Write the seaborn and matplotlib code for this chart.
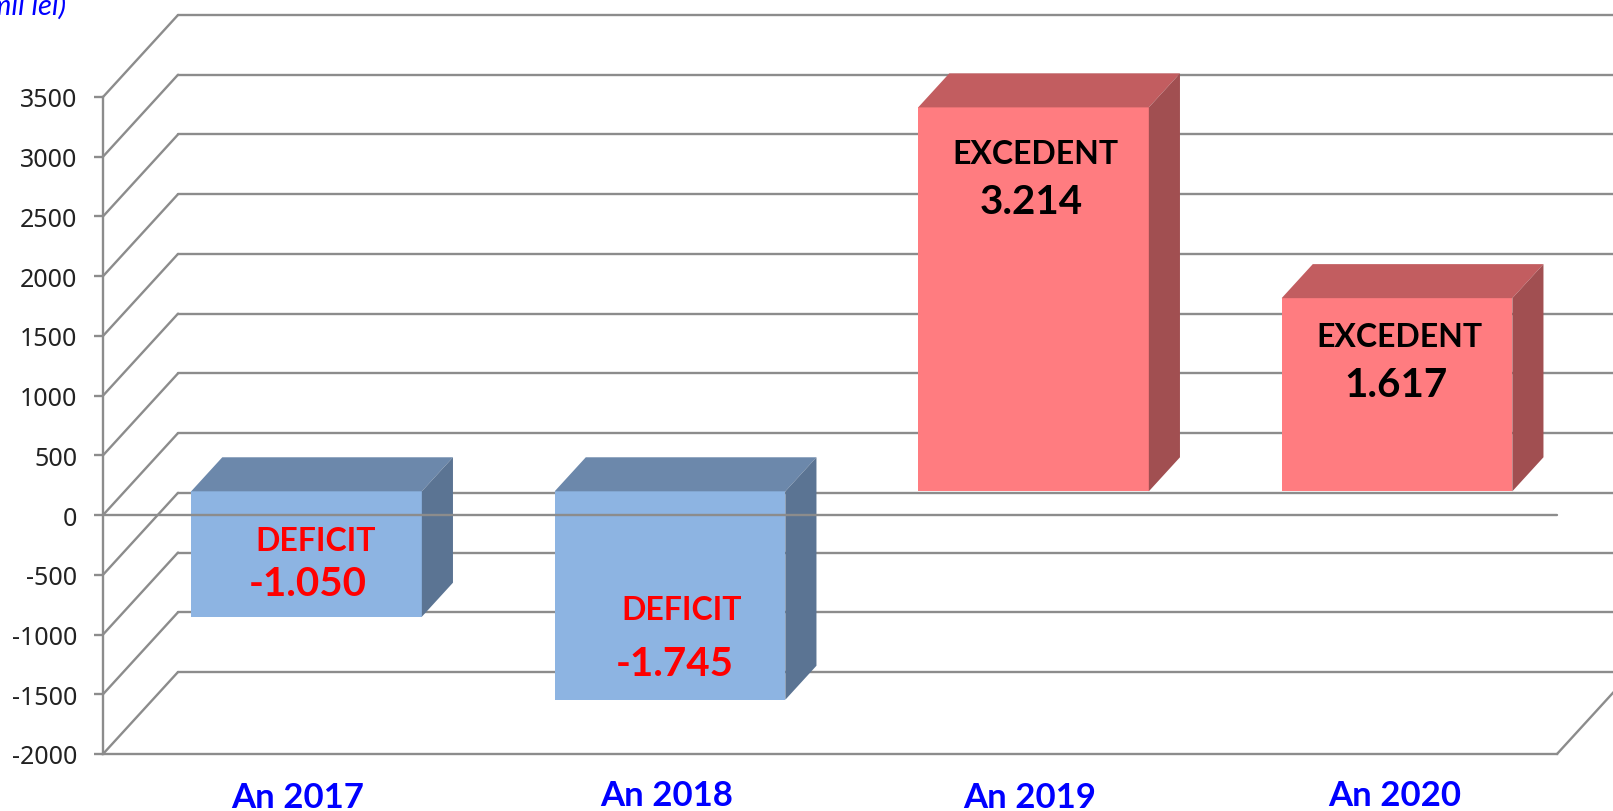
import matplotlib
matplotlib.use("Agg")
import matplotlib.pyplot as plt
import seaborn as sns

years = ["An 2017", "An 2018", "An 2019", "An 2020"]
values = [-1050, -1745, 3214, 1617]
kinds = ["DEFICIT", "DEFICIT", "EXCEDENT", "EXCEDENT"]
value_labels = ["-1.050", "-1.745", "3.214", "1.617"]
y_ticks = [-2000, -1500, -1000, -500, 0, 500, 1000, 1500, 2000, 2500, 3000, 3500]

front_colors = ["#8DB4E2", "#8DB4E2", "#FF7C80", "#FF7C80"]
top_colors = ["#6C88AB", "#6C88AB", "#C25D60", "#C25D60"]
side_colors = ["#5B7493", "#5B7493", "#A14F51", "#A14F51"]
grid_color = "#8C8C8C"

W, H = 1613, 812
PX_X = 4 / 1454  # data units per pixel
PX_Y = 5500 / 657

# 3d look: how far the back wall sits behind the front plane
depth_x = 75 * PX_X
depth_y = 82 * PX_Y
bar_front = 0.29
bar_back = 0.705

sns.set_style("white")
fig = plt.figure(figsize=(W / 100, H / 100), dpi=100)
ax = fig.add_axes([103 / W, (H - 755) / H, 1454 / W, 657 / H])

sns.barplot(x=years, y=values, hue=years, palette=front_colors, dodge=False,
            width=231 / 364, saturation=1, legend=False, ax=ax)
ax.set_xlim(-0.5, 3.5)
ax.set_ylim(-2000, 3500)

# walls
for t in y_ticks:
    ax.plot([-0.5, -0.5 + depth_x], [t, t + depth_y], color=grid_color, lw=1.7,
            clip_on=False, zorder=1)
    ax.plot([-0.5 + depth_x, 3.5 + depth_x], [t + depth_y, t + depth_y], color=grid_color,
            lw=1.7, clip_on=False, zorder=1)
ax.plot([3.5, 3.5 + depth_x], [-2000, -2000 + depth_y], color=grid_color, lw=1.7,
        clip_on=False, zorder=1)
ax.plot([-0.5, 3.5], [0, 0], color=grid_color, lw=1.7, clip_on=False, zorder=6)

# move the bars back and add the top and side faces
off_x = bar_front * depth_x
off_y = bar_front * depth_y
dx = (bar_back - bar_front) * depth_x
dy = (bar_back - bar_front) * depth_y
for i, container in enumerate(ax.containers):
    bar = container[0]
    bar.set_x(bar.get_x() + off_x)
    bar.set_y(bar.get_y() + off_y)
    bar.set_clip_on(False)
    bar.set_linewidth(0)
    bar.set_zorder(3)
    x0 = bar.get_x()
    x1 = x0 + bar.get_width()
    y1 = max(bar.get_y(), bar.get_y() + bar.get_height())
    y0 = min(bar.get_y(), bar.get_y() + bar.get_height())
    ax.fill([x0, x1, x1 + dx, x0 + dx], [y1, y1, y1 + dy, y1 + dy], color=top_colors[i],
            lw=0, clip_on=False, zorder=3)
    ax.fill([x1, x1 + dx, x1 + dx, x1], [y0, y0 + dy, y1 + dy, y1], color=side_colors[i],
            lw=0, clip_on=False, zorder=3)

ax.set_yticks(y_ticks)
ax.set_yticklabels([str(t) for t in y_ticks], fontsize=18, family="Noto Sans", color="#222222")
ax.set_xticks([])
ax.set_xlabel("")
ax.set_ylabel("")
ax.tick_params(axis="y", left=True, length=6.5, width=1.7, color=grid_color, pad=12)
for name, spine in ax.spines.items():
    spine.set_visible(name in ["left", "bottom"])
    spine.set_color(grid_color)
    spine.set_linewidth(1.7)
ax.patch.set_alpha(0)

# text boxes were placed by hand in the original, so they sit a little off centre
kind_offsets = [(31, -25), (33, -94), (24, 362), (24, 179)]
value_offsets = [(23, -68), (27, -148), (20, 314), (21, 131)]
year_offsets = [(13, -43), (18, -41), (18, -43), (19, -41)]
for i, year in enumerate(years):
    text_color = "red" if values[i] < 0 else "black"
    ax.annotate(kinds[i], (i, 0), xytext=kind_offsets[i], textcoords="offset pixels",
                ha="center", va="center", family="Lato", fontweight="bold", fontsize=23,
                color=text_color, zorder=7, annotation_clip=False)
    ax.annotate(value_labels[i], (i, 0), xytext=value_offsets[i], textcoords="offset pixels",
                ha="center", va="center", family="Lato", fontweight="bold", fontsize=29,
                color=text_color, zorder=7, annotation_clip=False)
    ax.annotate(year, (i, -2000), xytext=year_offsets[i], textcoords="offset pixels",
                ha="center", va="center", family="Lato", fontweight="bold", fontsize=25,
                color="#0000FF", annotation_clip=False)

fig.text(66 / W, 1 - 15 / H, "(mil lei)", ha="right", va="baseline", family="Lato",
         style="italic", fontsize=21, color="#0000FF")

fig.savefig("out.png", dpi=100)
